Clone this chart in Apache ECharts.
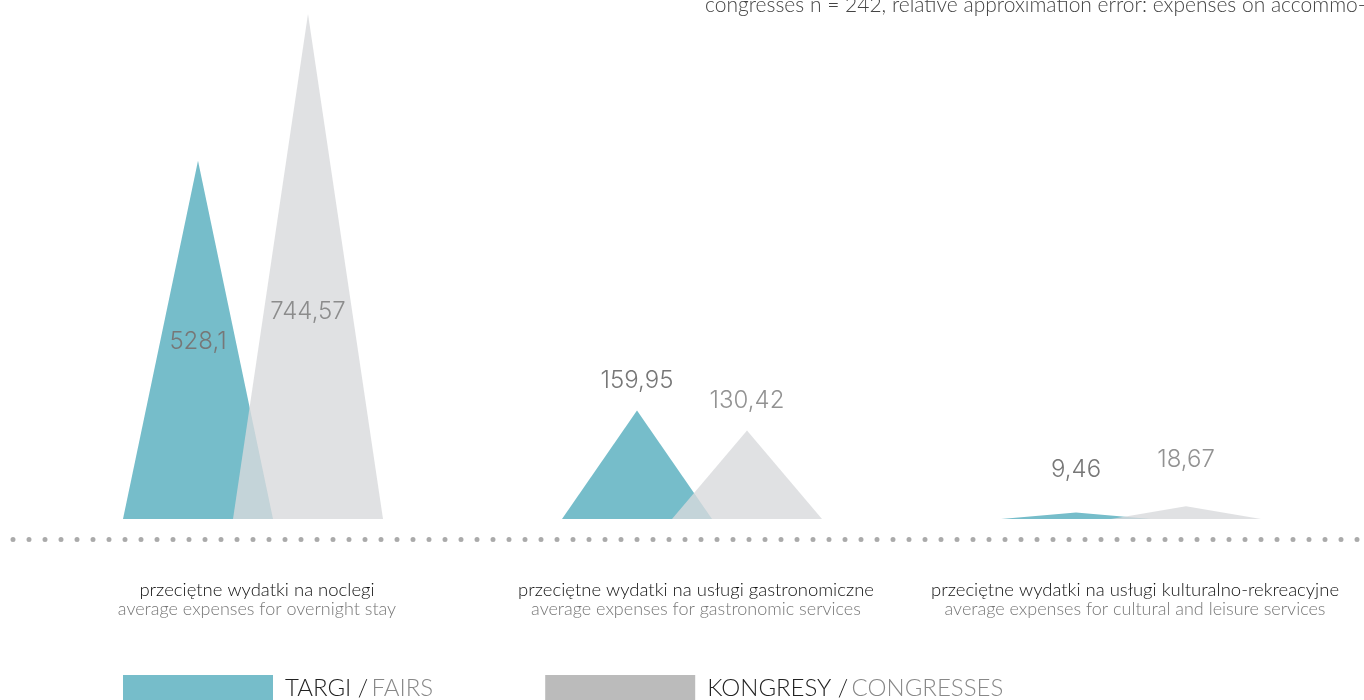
<!DOCTYPE html>
<html>
<head>
<meta charset="utf-8">
<script src="https://cdn.jsdelivr.net/npm/echarts@6/dist/echarts.min.js"></script>
<style>
  html, body { margin: 0; padding: 0; background: #fff; }
  #chart { width: 1364px; height: 700px; }
</style>
</head>
<body>
<div id="chart"></div>
<script>
  // kategorie (PL / EN)
  var categoriesPl = ['przeciętne wydatki na noclegi', 'przeciętne wydatki na usługi gastronomiczne', 'przeciętne wydatki na usługi kulturalno-rekreacyjne'];
  var categoriesEn = ['average expenses for overnight stay', 'average expenses for gastronomic services', 'average expenses for cultural and leisure services'];
  // wartości
  var fairs = [528.1, 159.95, 9.46];
  var congresses = [744.57, 130.42, 18.67];
  var seriesNames = ['TARGI / FAIRS', 'KONGRESY / CONGRESSES'];
  var noteText = 'congresses n = 242, relative approximation error: expenses on accommo-';

  var valueFont = 'Inter';
  function fmt(v) { return String(v).replace('.', ','); }

  // etykiety: pierwsza grupa w środku trójkąta, reszta nad wierzchołkiem
  function buildData(values, offsets) {
    return values.map(function (v, i) {
      if (i === 0) {
        return { value: v, label: { position: 'inside', offset: offsets[0] } };
      }
      return { value: v, label: { offset: offsets[i] } };
    });
  }

  var chart = echarts.init(document.getElementById('chart'));
  chart.setOption({
    animation: false,
    title: {
      text: noteText,
      left: 700,
      top: -10,
      textStyle: { fontFamily: 'Lato', fontWeight: 300, fontSize: 21, color: '#444' }
    },
    legend: {
      data: [
        { name: seriesNames[0], itemStyle: { color: '#76bdca' } },
        { name: seriesNames[1], itemStyle: { color: '#bbbbbb', opacity: 1 } }
      ],
      left: 123,
      top: 675,
      padding: 0,
      icon: 'rect',
      itemWidth: 150,
      itemHeight: 26,
      itemGap: 112,
      formatter: function (name) {
        var p = name.split(' / ');
        return '{a|' + p[0] + ' /} {b|' + p[1] + '}';
      },
      textStyle: {
        padding: [0, 0, 0, 7],
        rich: {
          a: { fontFamily: 'Lato', fontWeight: 300, fontSize: 24, color: '#222' },
          b: { fontFamily: 'Lato', fontWeight: 300, fontSize: 24, color: '#888' }
        }
      }
    },
    grid: [
      { left: 33.5, right: 13.5, top: 14, bottom: 181 },
      { left: 13, right: 0, top: 538, height: 1 }
    ],
    xAxis: [
      {
        type: 'category',
        gridIndex: 0,
        data: categoriesPl,
        axisLine: { show: false },
        axisTick: { show: false },
        axisLabel: {
          margin: 62,
          interval: 0,
          formatter: function (v, i) {
            return '{a|' + v + '}\n{b|' + categoriesEn[i] + '}';
          },
          rich: {
            a: { fontFamily: 'Lato', fontWeight: 300, fontSize: 18.5, color: '#111', lineHeight: 19, padding: [0, 0, 0, 8] },
            b: { fontFamily: 'Lato', fontWeight: 300, fontSize: 18, color: '#777', lineHeight: 19, padding: [0, 0, 0, 8] }
          }
        }
      },
      {
        type: 'category',
        gridIndex: 1,
        data: [''],
        axisLine: { show: true, lineStyle: { color: '#aaa', width: 5, type: [0, 16], cap: 'round' } },
        axisTick: { show: false },
        axisLabel: { show: false }
      }
    ],
    yAxis: [
      { type: 'value', gridIndex: 0, min: 0, max: 'dataMax', show: false },
      { type: 'value', gridIndex: 1, show: false }
    ],
    series: [
      {
        name: seriesNames[0],
        type: 'pictorialBar',
        symbol: 'triangle',
        symbolSize: [150, '100%'],
        barWidth: 110,
        barGap: '0%',
        itemStyle: { color: '#76bdca' },
        label: {
          show: true,
          position: 'top',
          distance: 18,
          formatter: function (p) { return fmt(p.value); },
          fontFamily: valueFont,
          fontWeight: 300,
          fontSize: 24,
          color: '#777'
        },
        data: buildData(fairs, [[0, 2], [0, 0], [0, -13]])
      },
      {
        name: seriesNames[1],
        type: 'pictorialBar',
        symbol: 'triangle',
        symbolSize: [150, '100%'],
        barWidth: 110,
        barGap: '0%',
        itemStyle: { color: '#d8d9dc', opacity: 0.8 },
        label: {
          show: true,
          position: 'top',
          distance: 18,
          formatter: function (p) { return fmt(p.value); },
          fontFamily: valueFont,
          fontWeight: 300,
          fontSize: 24,
          color: '#777'
        },
        data: buildData(congresses, [[0, 45], [0, 0], [0, -17]])
      }
    ]
  });
</script>
</body>
</html>
